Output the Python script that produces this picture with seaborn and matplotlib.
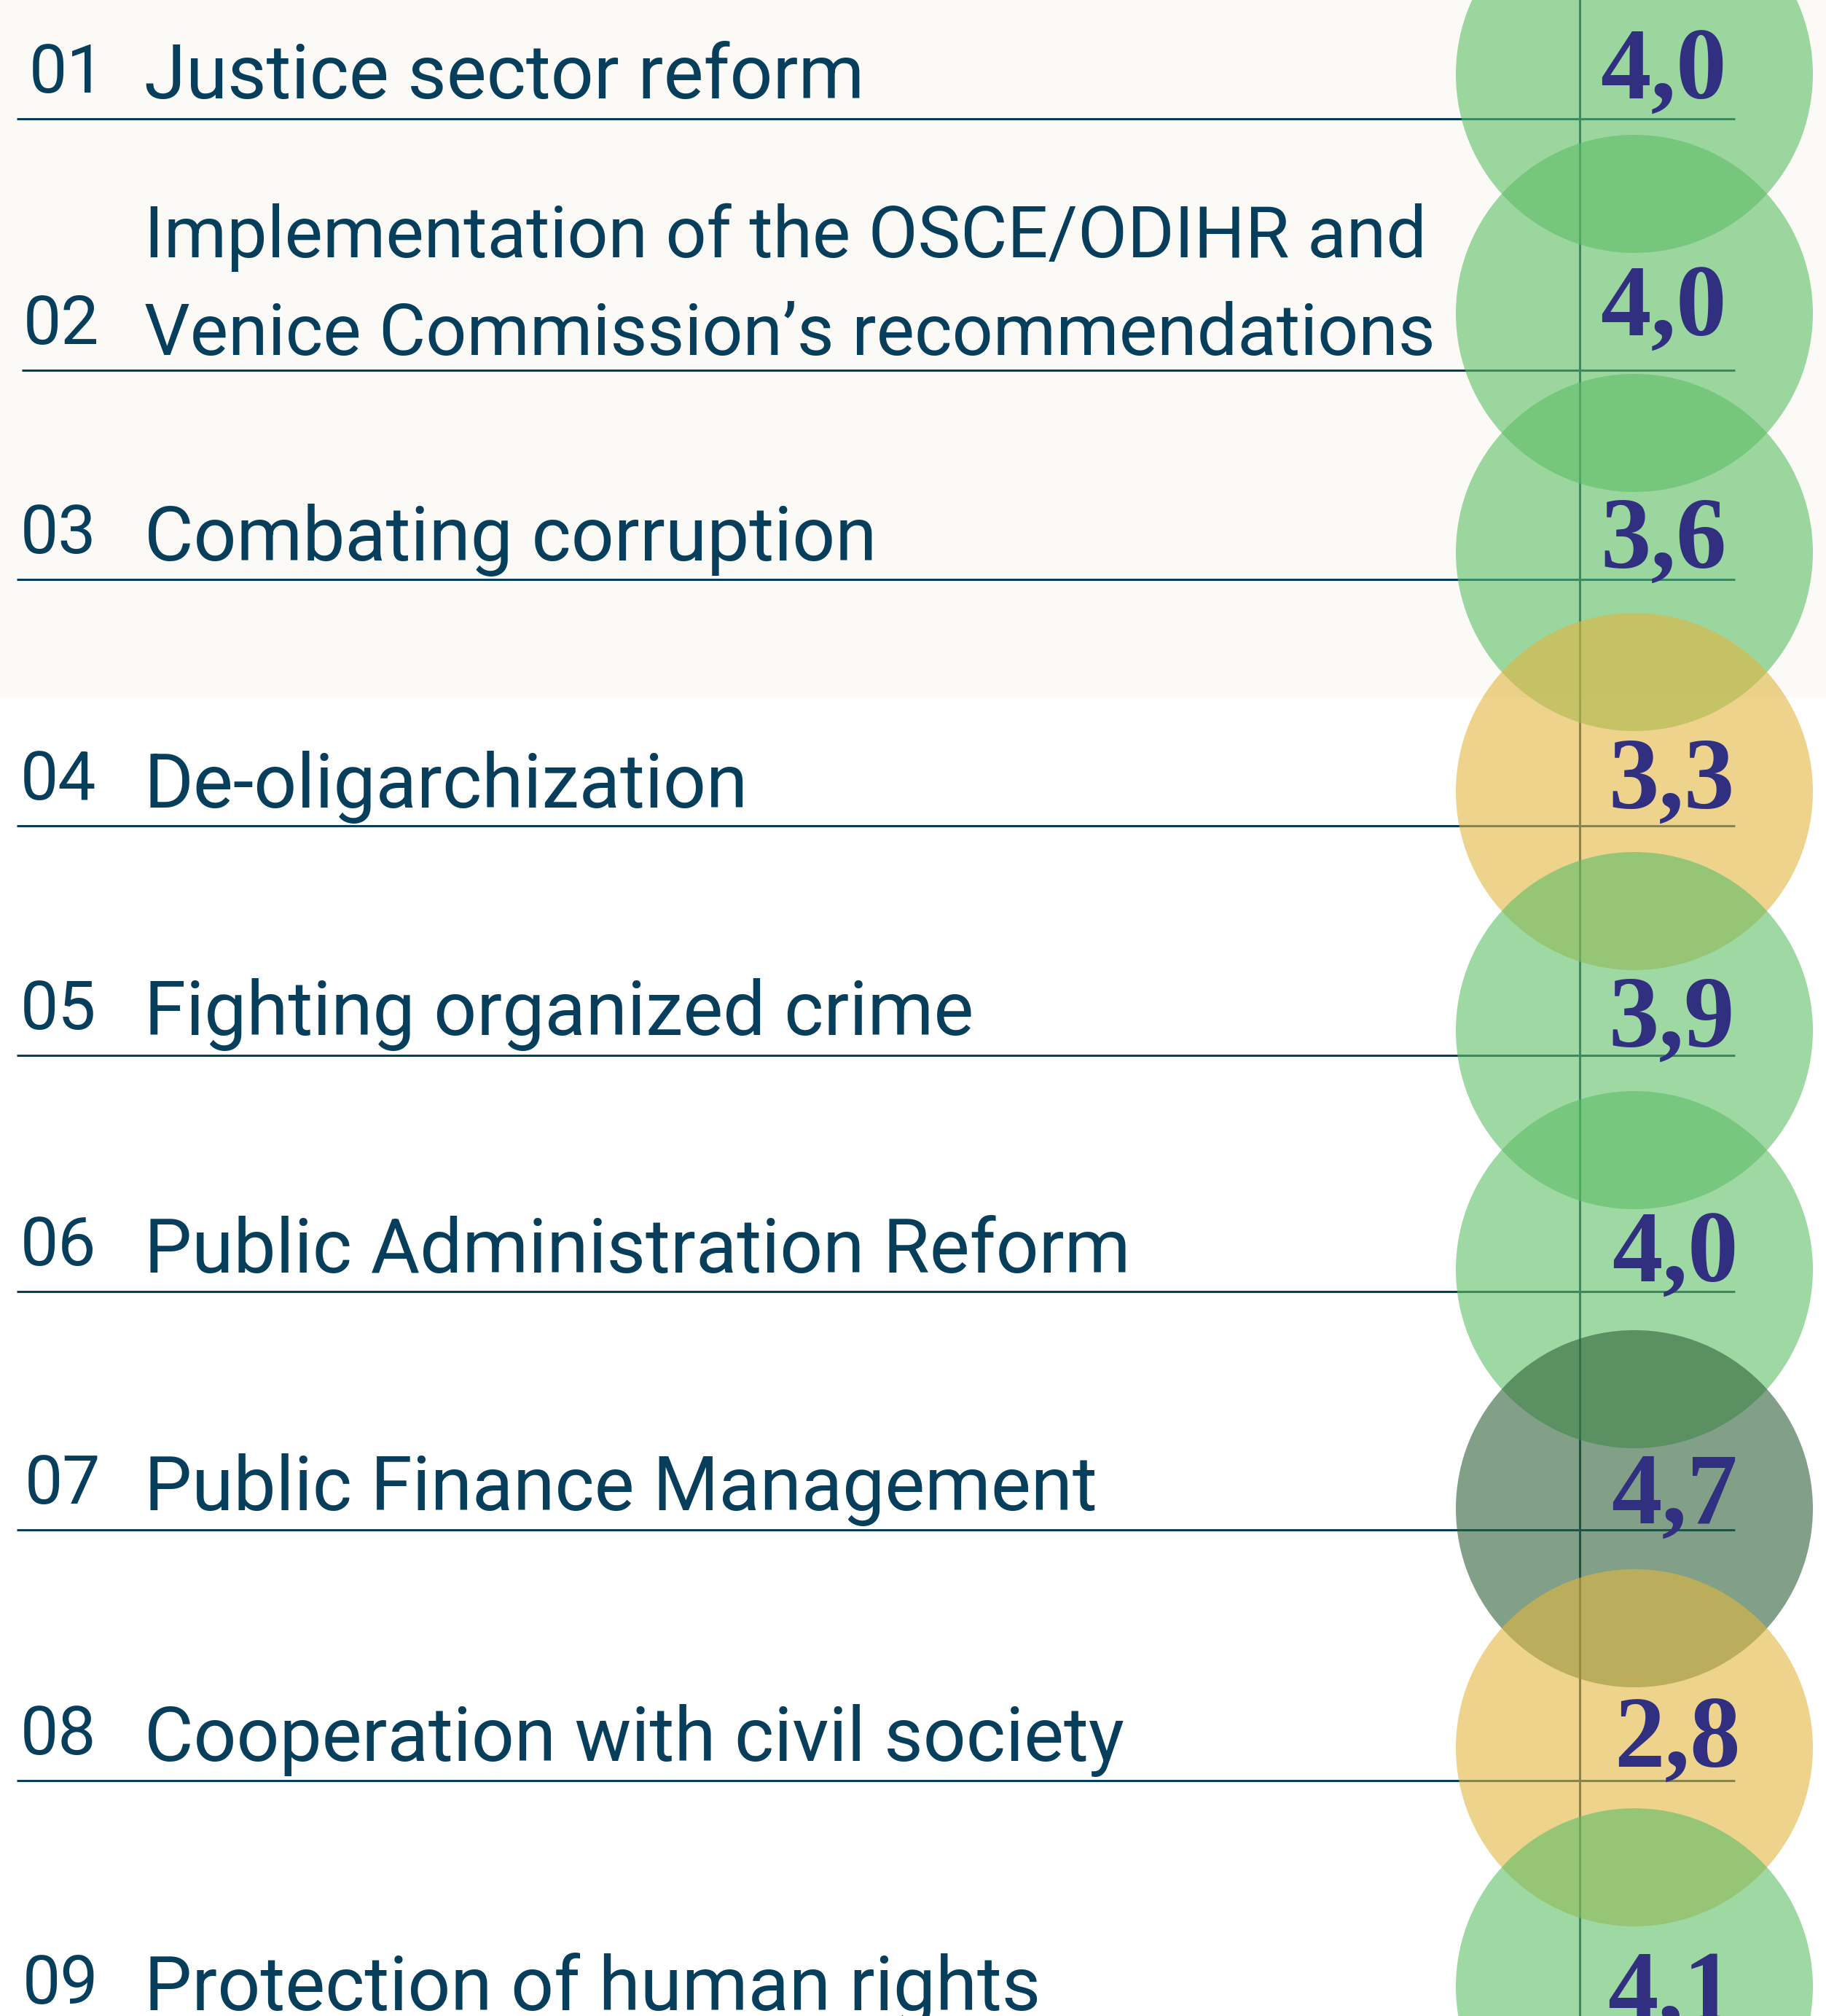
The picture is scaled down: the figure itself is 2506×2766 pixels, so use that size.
import numpy as np
import pandas as pd
import matplotlib
matplotlib.use('Agg')
import matplotlib.pyplot as plt
import seaborn as sns

# --- data ---
row_numbers = ['01', '02', '03', '04', '05', '06', '07', '08', '09']
topics = [
    'Justice sector reform',
    'Implementation of the OSCE/ODIHR and\nVenice Commission\u2019s recommendations',
    'Combating corruption',
    'De-oligarchization',
    'Fighting organized crime',
    'Public Administration Reform',
    'Public Finance Management',
    'Cooperation with civil society',
    'Protection of human rights',
]
scores = [4.0, 4.0, 3.6, 3.3, 3.9, 4.0, 4.7, 2.8, 4.1]

# --- layout (pixels of the final image) ---
DPI = 100
W, H = 2506, 2766
ROW0 = 102          # centre of first circle
ROW_STEP = 328      # distance between circle centres
CIRCLE_X = 2243
CIRCLE_R = 245
VLINE_X = 2168
LINE_END = 2381
TOP_BAND = 957
line_offset = [61, 78, 37, 47, 34, 30, 29, 45, 59]      # rule below circle centre
line_start = [23, 30, 23, 23, 23, 23, 23, 23, 23]
label_offset = [-28, -21, -26, -25, -28, -26, -27, -27, -27]
label_size = [74.5, 71, 74.5, 74.5, 74.5, 74.5, 74.5, 74.5, 74.5]
NUM_OFFSET = -36
num_x = [40, 32, 28, 28, 28, 28, 34, 28, 31]
LABEL_X = 198
LABEL_LEADING = 134
value_offset = [-27, -47, -16, -24, -12, -13, -9, -18, -12]
value_x = [2196, 2196, 2196, 2207, 2207, 2212, 2211, 2215, 2206]

NAVY = '#073e5b'
VALUE_COLOR = '#302f80'
BAND_BG = '#fbfaf6'
band_colors = {'low': '#e1b63f', 'mid': '#5dbe66', 'high': '#2f6139'}


def band(v):
    if v < 3.5:
        return 'low'
    if v >= 4.5:
        return 'high'
    return 'mid'


def px(p):
    # pixel offset -> row units
    return p / ROW_STEP


df = pd.DataFrame({
    'row': np.arange(len(scores)),
    'score': scores,
    'band': [band(v) for v in scores],
})
df['cx'] = CIRCLE_X

sns.set_theme(style='white')
plt.rcParams['font.family'] = ['Roboto', 'DejaVu Sans']

fig = plt.figure(figsize=(W / DPI, H / DPI), dpi=DPI)
fig.patch.set_facecolor('white')
ax = fig.add_axes([0, 0, 1, 1])

y_top = px(-ROW0)
y_bot = px(H - ROW0)

# top tinted band
ax.axhspan(y_top, px(TOP_BAND - ROW0), color=BAND_BG, lw=0, zorder=0)

# rules
ax.axvline(VLINE_X, color=NAVY, lw=2.2, zorder=1)
rule_y = df['row'] + np.array([px(o) for o in line_offset])
ax.hlines(rule_y, xmin=line_start, xmax=LINE_END, colors=NAVY, lw=2.2, zorder=1)

# circles
marker_pt = 2 * CIRCLE_R * 72 / DPI
sns.scatterplot(data=df, x='cx', y='row', hue='band', palette=band_colors,
                s=marker_pt ** 2, alpha=0.6, linewidth=0, legend=False,
                ax=ax, zorder=2)

# texts
for i, r in df.iterrows():
    base = rule_y[i]
    ax.text(num_x[i], base + px(NUM_OFFSET), row_numbers[i], fontsize=67,
            color=NAVY, va='baseline', ha='left', zorder=3)
    lines = topics[i].split('\n')
    for k, txt in enumerate(reversed(lines)):
        ax.text(LABEL_X, base + px(label_offset[i] - k * LABEL_LEADING), txt,
                fontsize=label_size[i], color=NAVY, va='baseline', ha='left',
                zorder=3)
    ax.text(value_x[i], base + px(value_offset[i]),
            f'{r.score:.1f}'.replace('.', ','), fontsize=100,
            family='Liberation Serif', fontweight='bold', color=VALUE_COLOR,
            va='baseline', ha='left', zorder=3)

ax.set_xlim(0, W)
ax.set_ylim(y_bot, y_top)
ax.axis('off')

fig.savefig('out.png', dpi=DPI)
